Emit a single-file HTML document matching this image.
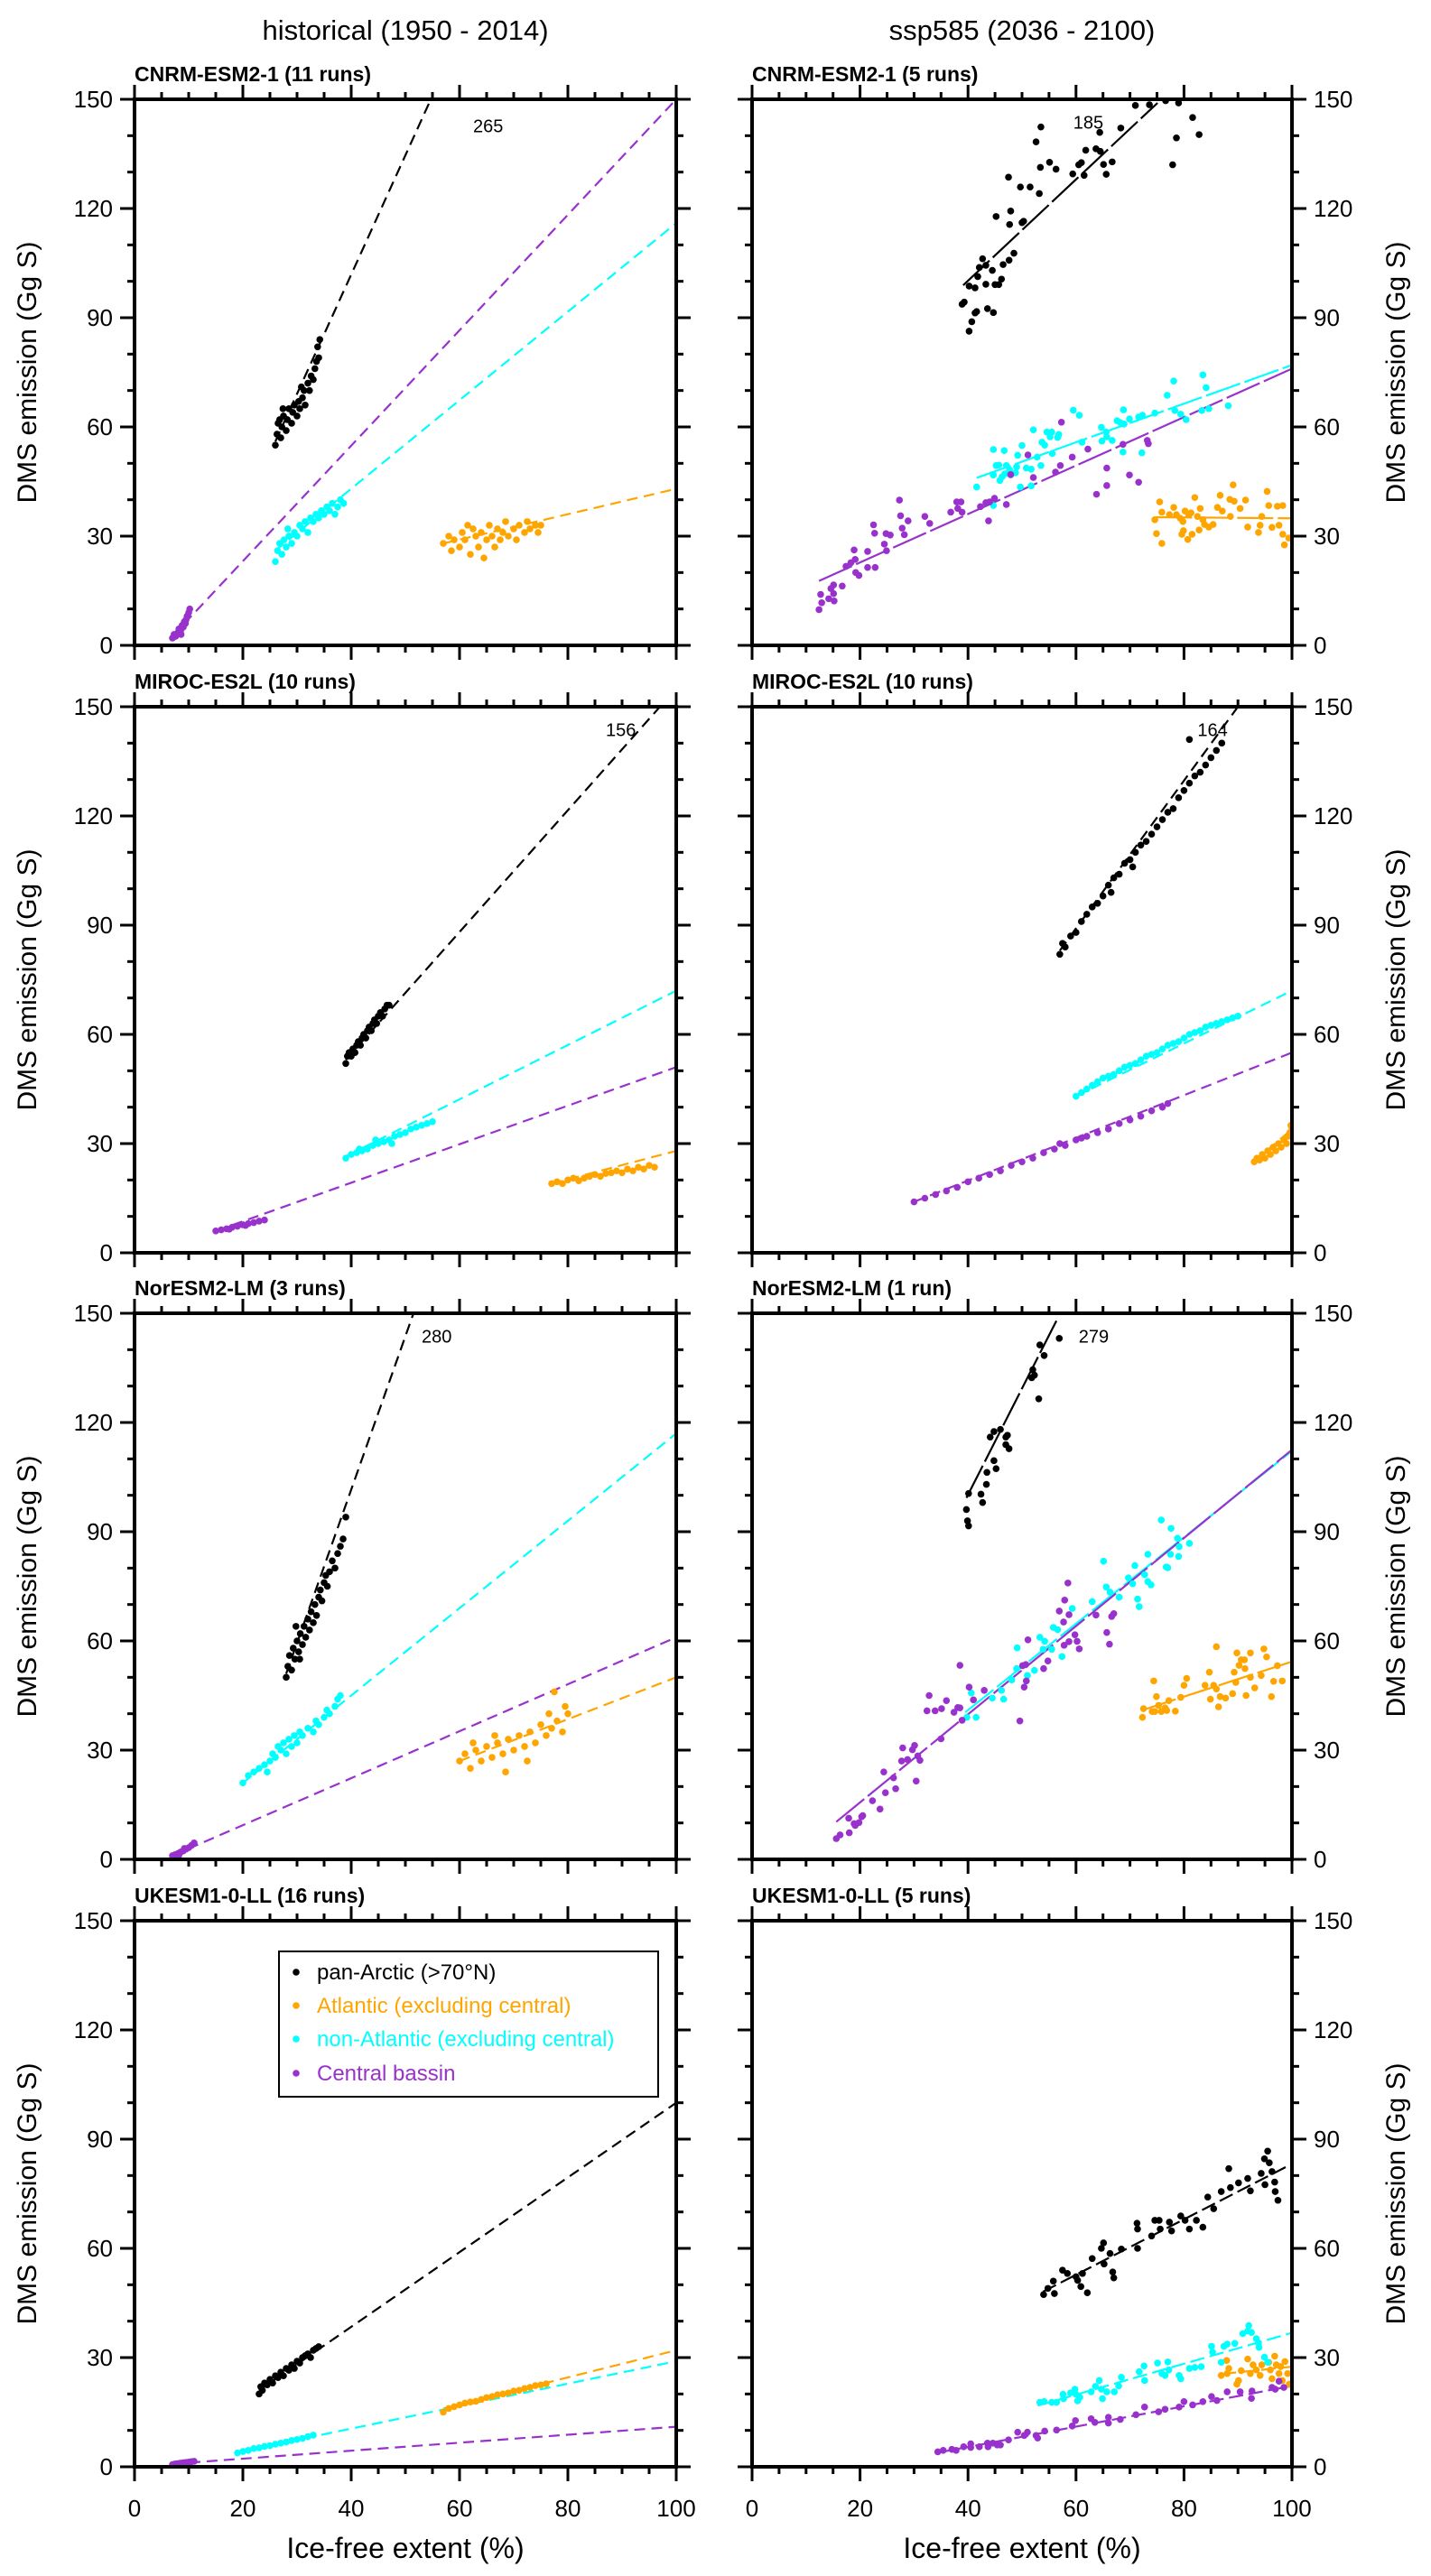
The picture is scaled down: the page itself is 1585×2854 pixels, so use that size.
<!DOCTYPE html>
<html><head><meta charset="utf-8"><title>DMS emission vs ice-free extent</title>
<style>
html,body{margin:0;padding:0;background:#fff;}
svg{display:block;font-family:"Liberation Sans",Arial,sans-serif;}
</style></head>
<body>
<svg id="chart" xmlns="http://www.w3.org/2000/svg" width="1585" height="2854" viewBox="0 0 1585 2854">
<rect x="0" y="0" width="1585" height="2854" fill="#fff"/>
<text x="449" y="44" font-size="31" text-anchor="middle">historical (1950 - 2014)</text>
<text x="1132" y="44" font-size="31" text-anchor="middle">ssp585 (2036 - 2100)</text>
<text x="449" y="2834" font-size="32" text-anchor="middle">Ice-free extent (%)</text>
<text x="1132" y="2834" font-size="32" text-anchor="middle">Ice-free extent (%)</text>
<g id="panels"></g>
<g id="legend">
<rect x="309" y="2162" width="420" height="161" fill="#fff" stroke="#000" stroke-width="2"/>
<circle cx="328" cy="2185" r="3.8" fill="#000"/>
<text x="351" y="2193" font-size="24" fill="#000">pan-Arctic (&gt;70°N)</text>
<circle cx="328" cy="2222" r="3.8" fill="#FFA500"/>
<text x="351" y="2230" font-size="24" fill="#FFA500">Atlantic (excluding central)</text>
<circle cx="328" cy="2259" r="3.8" fill="#00FFFF"/>
<text x="351" y="2267" font-size="24" fill="#00FFFF">non-Atlantic (excluding central)</text>
<circle cx="328" cy="2297" r="3.8" fill="#9932CC"/>
<text x="351" y="2305" font-size="24" fill="#9932CC">Central bassin</text>
</g>
</svg>
<script>
// ---------- tick labels ----------
const xTickValues = [0, 20, 40, 60, 80, 100];
const yTickValues = [0, 30, 60, 90, 120, 150];

// ---------- Panel 1: CNRM-ESM2-1 historical ----------
const cnrmHistPan = [[26,55],[26.3,58],[26.5,61],[27,57],[27.2,60],[27.5,63],[28,59],[28.2,62],[28.5,65],[29,61],[29.2,64],[29.5,66],[30,63],[30.3,67],[30.5,65],[31,68],[31.3,70],[31.5,66],[32,72],[32.3,70],[32.6,74],[33,73],[33.3,76],[33.6,78],[34,79],[34.2,84],[33.8,82],[27.4,65],[26.8,62],[30.8,71]];
const cnrmHistNon = [[26,23],[26.4,26],[26.8,28],[27.2,25],[27.6,29],[28,27],[28.5,30],[29,28],[29.5,31],[30,30],[30.5,33],[31,32],[31.5,34],[32,31],[32.5,35],[33,34],[33.5,36],[34,35],[34.5,37],[35,36],[35.5,38],[36,37],[36.5,39],[37,36],[37.5,38],[38,40],[38.6,39],[28.3,32]];
const cnrmHistAtl = [[57,28],[58,30],[58.5,26],[59,29],[60,27],[60.5,31],[61,29],[62,25],[62.5,32],[63,30],[63.5,27],[64,31],[65,29],[65.5,33],[66,30],[66.5,27],[67,32],[67.5,29],[68,31],[68.5,34],[69,30],[70,32],[70.5,29],[71,33],[72,31],[72.5,34],[73,32],[74,33],[74.5,31],[75,33],[64.5,24],[61.5,33]];
const cnrmHistCen = [[7,2],[7.3,3],[7.6,2.5],[8,3.5],[8.2,4.5],[8.5,4],[8.8,5.5],[9,5],[9.2,6.5],[9.5,7],[9.7,8],[10,9],[10.2,10],[9.4,6],[8.6,3]];
const cnrmHistFits = {pan:[26,56,54.7,150], non:[26,26,100,116], atl:[57,28,100,43], cen:[7,2.5,100,150]};

// ---------- Panel 2: CNRM-ESM2-1 ssp585 ----------
const cnrmSspPan = [[40.2,86.3],[40.7,88.9],[41.3,91.3],[41.6,91.7],[38.9,93.7],[39.3,94.3],[43.6,92.5],[44.7,91.4],[40.2,98.7],[41.3,98.2],[43.3,99.2],[41.8,101.3],[42.1,103.8],[42.7,106.2],[43.3,104.4],[44.5,103.0],[45.0,99.1],[45.7,99.1],[46.2,100.6],[46.5,104.6],[47.6,105.8],[48.5,107.7],[47.7,115.6],[47.9,119.3],[45.2,117.8],[47.5,128.6],[49.7,125.9],[51.5,125.9],[53.2,124.1],[50.0,116.1],[50.3,116.5],[52.6,138.3],[53.5,142.4],[53.4,131.3],[55.1,132.7],[56.3,130.8],[59.4,129.5],[60.5,132.0],[61.0,132.6],[61.5,129.1],[61.8,136.0],[63.7,136.4],[64.5,135.7],[64.4,140.9],[65.1,132.1],[65.6,129.4],[66.7,132.8],[68.3,142.1],[71.0,148.3],[73.6,148.5],[76.6,149.6],[79.0,149],[81.6,145],[82.8,140.3],[78.6,139.4],[77.9,132.0]];
const cnrmSspNon = [[41.6,43.5],[44.7,53.8],[46.7,53.5],[45.2,49.4],[45.7,49.5],[47.1,49.4],[44.7,46.8],[45.9,45.3],[46.3,46.3],[46.8,47.1],[47.7,48.2],[47.9,46.8],[48.8,47.4],[49.0,49.0],[49.2,52.2],[50.0,54.9],[50.8,48.7],[51.7,48.4],[52.1,59.2],[52.8,51.7],[53.5,49.4],[53.7,55.8],[54.2,55.0],[54.6,58.6],[55.2,57.3],[55.5,58.6],[55.6,52.7],[56.6,57.1],[56.8,57.9],[59.5,64.6],[60.6,63.2],[61.1,55.8],[64.7,59.9],[64.8,56.1],[65.6,58.6],[65.7,57.3],[66.7,56.3],[68.7,53.1],[68.8,64.7],[67.6,61.7],[68.2,61.2],[68.9,60.8],[69.9,62.2],[71.6,62.7],[72.3,63.2],[72.2,52.9],[74.6,63.8],[76.9,68.7],[78.1,72.6],[78.3,64.5],[79.4,63.5],[80.4,62.0],[83.5,74.3],[84.1,70.8],[83.3,64.5],[84.6,65.0],[88.2,65.8],[49.7,43.5],[51.7,43.8],[44.7,38.4]];
const cnrmSspAtl = [[74.6,34.5],[74.9,30.7],[75.5,39.4],[75.9,36.6],[75.9,28.0],[77.3,35.9],[78.1,37.9],[78.6,35.9],[79.3,34.9],[79.6,30.5],[79.8,34.0],[79.9,31.5],[80.2,36.9],[80.7,29.1],[80.9,35.9],[81.3,36.4],[81.5,30.5],[82.0,40.6],[82.5,35.4],[82.8,31.7],[83.0,37.6],[83.5,34.5],[83.8,33.2],[84.6,32.5],[85.4,33.2],[86.2,37.9],[86.7,41.2],[87.1,36.9],[88.5,40.1],[88.6,35.4],[89.1,44.1],[89.3,39.6],[90.4,37.6],[91.4,39.9],[91.8,32.5],[93.8,31.0],[94.1,33.0],[94.4,35.4],[95.4,42.3],[95.7,38.4],[96.3,32.4],[97.3,38.2],[97.6,33.0],[98.3,38.4],[98.3,30.5],[98.6,27.6],[99.4,29.5]];
const cnrmSspCen = [[12.4,9.8],[12.9,11.7],[12.7,14.0],[14.2,12.8],[14.6,15.6],[15.1,16.6],[15.2,12.2],[15.1,14.2],[16.7,16.3],[17.4,21.7],[18.3,22.7],[18.9,26.2],[19.1,23.6],[19.2,20.0],[19.8,19.2],[21.4,25.8],[21.4,21.4],[22.5,33.1],[22.7,30.8],[22.8,21.4],[24.5,27.8],[24.8,30.7],[24.9,26.0],[25.6,30.3],[27.3,39.9],[27.5,35.6],[27.8,32.2],[28.2,30.4],[28.9,34.2],[32.0,35.4],[32.9,33.5],[36.8,36.6],[37.9,39.4],[38.1,37.6],[38.7,39.4],[38.9,36.6],[42.3,38.1],[43.3,39.2],[43.8,34.2],[44.0,39.4],[44.9,40.4],[47.1,38.7],[47.9,46.9],[51.1,52.3],[52.1,46.1],[56.2,47.6],[57.1,49.4],[57.3,61.3],[59.3,51.7],[62.2,53.9],[63.8,41.5],[65.7,48.7],[65.7,43.9],[68.7,55.2],[69.9,46.8],[71.6,44.8],[73.2,56.3],[73.4,55.4]];
const cnrmSspFits = {pan:[39.1,98.9,75.1,149], non:[41.6,46,100,77], atl:[74.8,35.2,100,34.9], cen:[12.4,17.7,100,76]};

// ---------- Panel 3: MIROC-ES2L historical ----------
const mirocHistPan = [[39,52],[39.3,54],[39.6,55],[40,54],[40.3,56],[40.7,55],[41,57],[41.3,58],[41.7,57],[42,59],[42.3,60],[42.7,59],[43,61],[43.3,62],[43.7,61],[44,63],[44.3,64],[44.7,63],[45,65],[45.4,66],[45.8,65],[46.2,67],[46.6,68],[47,68]];
const mirocHistNon = [[39,26],[40,27],[41,27.5],[42,28],[43,28.5],[44,29.5],[45,30],[46,30.5],[47,31],[48,32],[49,32.5],[50,33],[51,34],[52,34.5],[53,35],[54,35.5],[55,36],[44.5,31],[47.5,30],[41.5,28.5]];
const mirocHistAtl = [[77,19],[78,19.5],[79,19],[80,20],[81,20.5],[82,19.8],[83,20.5],[84,21],[85,21.5],[86,21],[87,21.8],[88,22],[89,22.5],[90,22],[91,23],[92,22.5],[93,23.5],[94,23],[95,24],[96,23.5]];
const mirocHistCen = [[15,6],[16,6.3],[17,6.6],[18,7],[19,7.3],[20,7.7],[21,8],[22,8.3],[23,8.7],[24,9],[17.5,6.5],[20.5,7.5]];
const mirocHistFits = {pan:[39,53,97,150], non:[39,26.5,100,72], atl:[77,19,100,28], cen:[15,6,100,51]};

// ---------- Panel 4: MIROC-ES2L ssp585 ----------
const mirocSspPan = [[57,82],[57.5,85],[58,84],[59,87],[60,88],[61,91],[62,93],[63,95],[64,96],[65,98],[66,101],[67,103],[68,104],[69,107],[70,108],[71,110],[72,112],[73,113],[74,115],[75,117],[76,119],[77,121],[78,122],[79,125],[80,127],[81,129],[82,131],[83,132],[84,134],[85,136],[86,138],[87,140],[81,141],[70.5,106],[66.5,99]];
const mirocSspNon = [[60,43],[61,44],[62,45],[63,46],[64,47],[65,48],[66,48.5],[67,49],[68,50],[69,51],[70,51.5],[71,52],[72,53],[73,54],[74,54.5],[75,55],[76,56],[77,57],[78,57.5],[79,58],[80,59],[81,60],[82,60.5],[83,61],[84,62],[85,62.5],[86,63],[87,63.5],[88,64],[89,64.5],[90,65]];
const mirocSspAtl = [[93,25],[93.5,26],[94,25.5],[94.5,27],[95,26],[95.5,28],[96,27],[96.5,29],[97,28],[97.5,30],[98,29],[98.5,31],[99,30],[99.3,32],[99.6,33],[99.8,35],[100,34]];
const mirocSspCen = [[30,14],[32,15],[34,16],[36,17],[38,18],[40,19.5],[42,20.5],[44,21.5],[46,22.5],[48,24],[50,25],[52,26],[54,27.5],[56,28.5],[58,29.5],[60,31],[62,32],[64,33],[66,34],[68,35.5],[70,36.5],[72,37.5],[74,39],[76,40],[77,41],[61,31.5],[57,30]];
const mirocSspFits = {pan:[57,83,90,150], non:[60,43,100,72], atl:[93,25,100,34], cen:[30,14,100,55]};

// ---------- Panel 5: NorESM2-LM historical ----------
const norHistPan = [[28,50],[28.3,53],[28.6,56],[29,52],[29.3,58],[29.6,55],[30,60],[30.3,57],[30.6,62],[31,59],[31.3,64],[31.6,61],[32,66],[32.3,63],[32.6,68],[33,65],[33.3,70],[33.6,67],[34,72],[34.3,74],[34.6,71],[35,76],[35.3,78],[35.6,75],[36,79],[36.5,82],[37,80],[37.5,84],[38,86],[38.5,88],[39,94],[30.5,55],[29.8,64]];
const norHistNon = [[20,21],[21,23],[22,24],[23,25],[24,26],[25,27],[25.5,29],[26,28],[26.5,31],[27,30],[27.5,32],[28,29],[28.5,33],[29,31],[29.5,34],[30,32],[30.5,35],[31,34],[32,36],[33,35],[33.5,38],[34,37],[35,39],[35.5,41],[36,40],[37,42],[37.5,44],[38,45],[24.5,24]];
const norHistAtl = [[60,27],[61,29],[62,25],[63,30],[64,27],[65,31],[66,28],[67,32],[68,29],[68.5,24],[69,33],[70,30],[71,34],[72,31],[72.5,27],[73,35],[74,32],[75,37],[76,34],[76.5,40],[77,36],[78,38],[79,35],[79.5,42],[80,40],[77.5,46],[66.5,34],[62.5,32]];
const norHistCen = [[7,1],[7.5,1.3],[8,1.6],[8.5,2],[9,2.3],[9.5,2.8],[10,3.2],[10.5,3.8],[11,4.5],[9.2,3],[8.2,1.2]];
const norHistFits = {pan:[28,51,51.5,150], non:[20,21,100,117], atl:[60,27,100,50], cen:[7,1,100,61]};

// ---------- Panel 6: NorESM2-LM ssp585 ----------
const norSspPan = [[40.1,100.5],[39.7,96.1],[39.9,93.0],[40.1,91.6],[42.4,100.3],[42.7,98.0],[43.4,103.0],[43.5,106.3],[44.8,109.5],[45.2,107.3],[44.1,116.0],[44.8,117.5],[46.0,118.1],[47.0,116.0],[47.3,116.5],[47.0,113.9],[47.6,112.8],[53.1,126.5],[51.8,132.3],[52.3,133.0],[52.0,134.5],[54.1,138.4],[53.3,141.3],[56.9,143.1]];
const norSspNon = [[75.8,93.2],[77.6,90.9],[78.8,88.2],[81.0,86.8],[79.1,85.9],[77.5,83.8],[79.0,83.2],[73.3,83.8],[76.7,80.3],[77.0,80.1],[65.1,81.9],[70.9,80.7],[69.7,77.3],[70.5,75.7],[72.7,78.2],[73.3,76.3],[73.9,75.4],[65.6,74.8],[66.3,73.4],[68.0,72.0],[71.4,71.5],[71.7,69.4],[63.0,70.8],[59.3,68.9],[55.8,63.7],[56.6,63.1],[57.4,55.7],[55.5,57.7],[53.3,61.0],[54.2,59.9],[53.9,57.7],[49.1,58.1],[49.0,52.4],[51.0,50.5],[52.3,51.9],[48.1,49.3],[46.2,46.4],[46.6,44.0],[44.5,44.3],[40.6,45.7],[41.5,39.0],[39.8,39.0]];
const norSspAtl = [[72.3,39.0],[72.5,41.4],[74.4,49.0],[74.1,40.6],[74.6,40.6],[74.9,44.7],[75.3,42.3],[75.8,40.6],[76.5,41.6],[76.8,40.9],[77.2,43.6],[78.4,40.7],[79.4,44.5],[80.0,47.8],[80.5,49.7],[83.9,47.8],[84.7,51.4],[84.9,44.0],[85.5,47.8],[86.0,46.8],[86.4,41.9],[86.7,44.7],[87.7,44.3],[86.0,58.4],[89.0,45.5],[89.3,51.4],[89.6,48.6],[89.8,56.7],[90.2,53.3],[90.6,54.8],[91.2,54.8],[91.3,52.4],[91.5,45.0],[92.3,50.0],[93.1,47.1],[92.3,56.7],[94.3,50.5],[94.8,57.8],[95.3,55.6],[96.2,44.7],[96.6,48.9],[97.3,53.2],[98.2,49.0]];
const norSspCen = [[15.6,5.7],[16.3,6.7],[18.0,7.3],[17.9,11.3],[18.9,9.8],[19.1,9.3],[19.8,10.1],[20.3,11.7],[20.5,12.0],[22.3,16.1],[23.7,13.8],[24.7,18.3],[26.6,19.4],[24.4,24.0],[26.2,22.4],[30.4,21.5],[27.7,27.0],[28.8,27.4],[27.9,30.6],[29.7,30.1],[30.1,31.3],[31.1,27.2],[30.7,28.4],[35.0,33.1],[32.4,40.8],[32.8,45.0],[33.9,40.8],[35.1,41.4],[36.0,43.6],[37.4,40.4],[38.1,41.7],[38.5,41.6],[38.9,38.2],[38.5,53.3],[40.2,47.3],[41.0,43.8],[43.0,46.4],[49.6,38.0],[50.4,47.3],[50.8,49.0],[50.1,53.2],[50.7,53.5],[51.1,60.3],[54.0,52.4],[54.8,54.5],[57.8,58.8],[58.7,59.8],[59.8,61.7],[60.2,59.9],[60.6,57.8],[56.9,68.2],[57.9,71.2],[58.7,67.2],[57.7,65.2],[58.5,75.9],[63.7,67.1],[65.7,62.3],[66.2,59.1],[66.6,66.7],[67.0,67.5]];
const norSspFits = {pan:[39.7,99.3,56.6,148.6], non:[39.5,40.4,100,112.2], atl:[72.1,40.9,100,54.3], cen:[15.6,10.3,100,112.5]};

// ---------- Panel 7: UKESM1-0-LL historical ----------
const ukHistPan = [[23,20],[23.3,22],[23.6,21],[24,23],[24.5,22.5],[25,24],[25.5,23],[26,25],[26.5,24.5],[27,26],[27.5,25],[28,27],[28.5,26.5],[29,28],[29.5,27],[30,29],[30.5,28.5],[31,30],[31.5,30.5],[32,31],[32.5,30],[33,32],[33.5,32.5],[34,33]];
const ukHistNon = [[19,3.8],[20,4.2],[21,4.5],[22,5],[23,5.2],[24,5.6],[25,5.8],[26,6.2],[27,6.5],[28,6.8],[29,7.2],[30,7.5],[31,7.8],[32,8.3],[33,8.7]];
const ukHistAtl = [[57,15],[58,16],[59,16.5],[60,17],[61,17.5],[62,17.8],[63,18],[64,18.5],[65,19],[66,19.3],[67,19.8],[68,20],[69,20.3],[70,20.8],[71,21],[72,21.5],[73,21.8],[74,22.3],[75,22.5],[76,22.8]];
const ukHistCen = [[7,0.6],[7.5,0.8],[8,0.9],[8.5,1],[9,1.1],[9.5,1.2],[10,1.3],[10.5,1.4],[11,1.5]];
const ukHistFits = {pan:[23,21,100,100], non:[19,4,100,29], atl:[57,16,100,32], cen:[7,0.8,100,11]};

// ---------- Panel 8: UKESM1-0-LL ssp585 ----------
const ukSspPan = [[54.0,47.3],[54.8,49.0],[56.0,47.6],[55.8,51.0],[57.5,54.0],[58.4,53.1],[60.0,52.2],[60.3,51.2],[60.9,49.5],[61.2,53.1],[62.1,47.8],[63.0,57.2],[64.7,60.0],[65.1,61.5],[65.2,55.7],[66.3,58.6],[66.8,53.5],[67.0,51.9],[68.4,59.8],[71.3,66.9],[71.4,65.3],[71.4,60.0],[74.0,63.4],[74.6,67.7],[75.4,67.7],[75.6,65.3],[77.3,67.2],[77.7,64.8],[79.4,68.9],[80.2,67.7],[81.0,65.3],[82.3,67.7],[83.5,65.8],[84.4,74.1],[85.5,70.9],[86.9,75.6],[88.3,81.9],[88.6,76.7],[90.1,78.0],[91.8,79.2],[92.3,75.8],[94.3,80.6],[94.9,84.6],[95.0,77.5],[95.5,86.7],[95.8,83.5],[96.3,81.1],[96.8,78.2],[96.9,75.6],[97.4,73.2]];
const ukSspNon = [[53.3,17.7],[54.1,17.9],[55.5,17.7],[56.4,17.7],[57.6,19.9],[57.7,18.7],[59.0,20.3],[59.8,21.3],[60.0,19.9],[60.3,18.1],[60.7,19.1],[62.8,20.6],[63.6,22.1],[64.3,23.7],[64.7,21.3],[64.9,18.7],[65.7,20.6],[67.1,20.6],[67.9,22.2],[68.4,24.6],[71.7,26.1],[72.6,27.7],[72.7,23.7],[75.1,28.5],[75.9,25.6],[77.0,28.8],[77.2,26.6],[76.5,25.1],[79.1,25.1],[79.4,24.2],[81.0,27.0],[82.0,27.3],[83.2,27.5],[85.1,33.1],[85.3,31.5],[86.9,28.7],[87.4,33.1],[88.0,33.7],[89.4,33.9],[90.9,36.6],[91.8,37.3],[92.0,38.8],[92.5,36.9],[93.4,35.2],[93.8,34.0],[93.9,32.8],[94.9,30.1],[95.5,28.7]];
const ukSspAtl = [[86.9,25.1],[87.9,29.2],[88.0,25.6],[88.3,27.0],[89.8,22.7],[90.6,26.4],[91.8,29.6],[92.3,25.6],[92.8,28.0],[93.4,26.6],[94.1,25.1],[94.4,28.0],[95.7,28.7],[96.0,26.6],[96.3,24.2],[96.8,30.4],[97.1,28.0],[97.6,25.6],[97.9,27.5],[98.2,23.7],[98.7,28.9],[99.2,25.6],[99.5,22.7],[90.1,23.7]];
const ukSspCen = [[34.4,4.1],[35.4,4.5],[37.0,4.8],[37.8,4.5],[39.2,5.5],[40.5,6.3],[40.5,5.3],[42.1,5.5],[43.6,6.5],[43.7,5.5],[44.6,6.5],[45.4,6.0],[46.0,6.0],[47.5,7.4],[49.2,9.5],[50.4,8.6],[51.0,9.5],[52.6,8.6],[52.9,7.9],[54.2,9.8],[56.4,10.1],[59.3,11.2],[59.9,12.7],[62.8,13.2],[63.5,12.2],[66.0,13.6],[66.0,12.0],[68.2,13.0],[71.1,14.3],[72.7,16.4],[75.3,15.1],[76.5,15.8],[79.1,16.4],[80.0,17.9],[81.6,17.0],[83.5,17.9],[85.1,19.3],[86.1,18.2],[88.0,20.6],[90.4,20.6],[92.5,18.8],[92.6,20.8],[96.3,21.8],[96.9,21.3],[97.6,23.5],[98.5,21.8]];
const ukSspFits = {pan:[53.9,48.1,100,83.2], non:[52.9,16.8,100,36.8], atl:[87,25.5,100,27.5], cen:[34.1,3.8,100,22.2]};

// ---------- layout ----------
const NS = 'http://www.w3.org/2000/svg';
const COLX = [149, 833];
const COLW = [600, 598];
const ROWY = [110, 783, 1455, 2128];
const PH = 605;
const COLORS = {pan:'#000000', atl:'#FFA500', non:'#00FFFF', cen:'#9932CC'};
const SERIES_NAMES = {pan:'pan-arctic', atl:'atlantic', non:'non-atlantic', cen:'central-basin'};

const panels = [
  {key:'cnrm-hist', col:0,row:0,label:'CNRM-ESM2-1 (11 runs)', data:{atl:cnrmHistAtl,non:cnrmHistNon,cen:cnrmHistCen,pan:cnrmHistPan}, fits:cnrmHistFits, dash:'12 7', ann:['265',62.5,141]},
  {key:'cnrm-ssp', col:1,row:0,label:'CNRM-ESM2-1 (5 runs)', data:{atl:cnrmSspAtl,non:cnrmSspNon,cen:cnrmSspCen,pan:cnrmSspPan}, fits:cnrmSspFits, dash:'40 5', ann:['185',59.5,142]},
  {key:'miroc-hist', col:0,row:1,label:'MIROC-ES2L (10 runs)', data:{atl:mirocHistAtl,non:mirocHistNon,cen:mirocHistCen,pan:mirocHistPan}, fits:mirocHistFits, dash:'12 7', ann:['156',87,142]},
  {key:'miroc-ssp', col:1,row:1,label:'MIROC-ES2L (10 runs)', data:{atl:mirocSspAtl,non:mirocSspNon,cen:mirocSspCen,pan:mirocSspPan}, fits:mirocSspFits, dash:'12 7', ann:['164',82.5,142]},
  {key:'noresm-hist', col:0,row:2,label:'NorESM2-LM (3 runs)', data:{atl:norHistAtl,non:norHistNon,cen:norHistCen,pan:norHistPan}, fits:norHistFits, dash:'12 7', ann:['280',53,142]},
  {key:'noresm-ssp', col:1,row:2,label:'NorESM2-LM (1 run)', data:{atl:norSspAtl,non:norSspNon,cen:norSspCen,pan:norSspPan}, fits:norSspFits, dash:'40 5', ann:['279',60.5,142]},
  {key:'ukesm-hist', col:0,row:3,label:'UKESM1-0-LL (16 runs)', data:{atl:ukHistAtl,non:ukHistNon,cen:ukHistCen,pan:ukHistPan}, fits:ukHistFits, dash:'12 7', ann:null},
  {key:'ukesm-ssp', col:1,row:3,label:'UKESM1-0-LL (5 runs)', data:{atl:ukSspAtl,non:ukSspNon,cen:ukSspCen,pan:ukSspPan}, fits:ukSspFits, dash:'16 6', ann:null}
];

function sx(col, v){ return COLX[col] + v/100*COLW[col]; }
function sy(row, v){ return ROWY[row] + PH - v/150*PH; }
function mk(tag, attrs, parent){
  const e = document.createElementNS(NS, tag);
  for (const k in attrs) e.setAttribute(k, attrs[k]);
  parent.appendChild(e);
  return e;
}

const root = document.getElementById('panels');
panels.forEach(p => {
  const g = mk('g', {}, root);
  
  
  const x0 = COLX[p.col], x1 = x0 + COLW[p.col], y0 = ROWY[p.row], y1 = y0 + PH;

  const t = mk('text', {x:x0, y:y0-20, 'font-size':23, 'font-weight':'bold'}, g);
  t.textContent = p.label;
  
  

  const cp = mk('clipPath', {id:'clip-'+p.key}, g);
  mk('rect', {x:x0, y:y0, width:COLW[p.col], height:PH}, cp);
  const plot = mk('g', {'clip-path':'url(#clip-'+p.key+')'}, g);
  
  

  ['atl','non','cen','pan'].forEach(s => {
    const f = p.fits[s];
    const ln = mk('line', {x1:sx(p.col,f[0]), y1:sy(p.row,f[1]), x2:sx(p.col,f[2]), y2:sy(p.row,f[3]), stroke:COLORS[s], 'stroke-width':2.2, 'stroke-dasharray':p.dash}, plot);
    
    
  });
  ['atl','non','cen','pan'].forEach(s => {
    const sg = mk('g', {fill:COLORS[s]}, plot);
    
    
    p.data[s].forEach(d => {
      const c = mk('circle', {cx:sx(p.col,d[0]), cy:sy(p.row,d[1]), r:3.8}, sg);
      
      
    });
  });
  if (p.ann){
    const a = mk('text', {x:sx(p.col,p.ann[1]), y:sy(p.row,p.ann[2]), 'font-size':20}, g);
    a.textContent = p.ann[0];
    
    
  }

  const fr = mk('rect', {x:x0, y:y0, width:COLW[p.col], height:PH, fill:'none', stroke:'#000', 'stroke-width':4}, g);
  
  

  const tg = mk('g', {stroke:'#000', 'stroke-width':3}, g);
  
  
  for (let v = 0; v <= 100; v += 5){
    const L = (v % 20 === 0) ? 16 : 8;
    const X = sx(p.col, v);
    mk('line', {x1:X, y1:y0, x2:X, y2:y0-L}, tg);
    mk('line', {x1:X, y1:y1, x2:X, y2:y1+L}, tg);
  }
  for (let v = 0; v <= 150; v += 10){
    const L = (v % 30 === 0) ? 16 : 8;
    const Y = sy(p.row, v);
    mk('line', {x1:x0, y1:Y, x2:x0-L, y2:Y}, tg);
    mk('line', {x1:x1, y1:Y, x2:x1+L, y2:Y}, tg);
  }
  yTickValues.forEach(v => {
    const lab = mk('text', {x: p.col===0 ? x0-24 : x1+24, y: sy(p.row,v)+9, 'font-size':26, 'text-anchor': p.col===0 ? 'end':'start'}, g);
    lab.textContent = v;
    
    
  });
  const yc = y0 + PH/2;
  const xt = p.col===0 ? 40 : 1556;
  const yt = mk('text', {x:xt, y:yc, 'font-size':30, 'text-anchor':'middle', transform:'rotate(-90 '+xt+' '+yc+')'}, g);
  yt.textContent = 'DMS emission (Gg S)';
  
  
  if (p.row === 3){
    xTickValues.forEach(v => {
      const lab = mk('text', {x:sx(p.col,v), y:y1+55, 'font-size':26, 'text-anchor':'middle'}, g);
      lab.textContent = v;
      
      
    });
  }
});
document.getElementById('chart').appendChild(document.getElementById('legend'));
</script>
</body></html>
